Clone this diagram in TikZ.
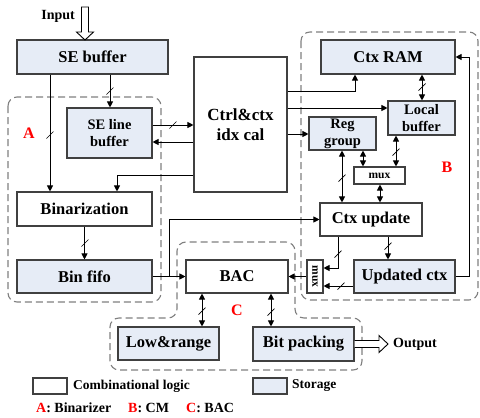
\documentclass[tikz,border=0pt]{standalone}
\usepackage{fontspec}
\setmainfont{Liberation Serif}
\usetikzlibrary{arrows.meta}
\definecolor{store}{HTML}{E6ECF6}
\definecolor{edge}{HTML}{404040}
\definecolor{zonegray}{HTML}{808080}
% short "/" mark across a bus line
\newcommand\busmark[1]{\draw[line width=0.7pt] #1 ++(-3.5,3.5) -- ++(7,-7);}
\begin{document}
\begin{tikzpicture}[x=1pt,y=-1pt,
  box/.style={draw=edge, line width=1.1pt, inner sep=0pt, align=center,
              font=\bfseries\fontsize{16.5}{20}\selectfont},
  comb/.style={box, fill=white},
  stor/.style={box, fill=store},
  small/.style={font=\bfseries\fontsize{14.5}{17}\selectfont},
  tip/.tip={Triangle[length=6pt,width=6pt]},
  arr/.style={line width=0.9pt, -tip},
  barr/.style={line width=0.9pt, tip-tip},
  ln/.style={line width=0.9pt},
  zone/.style={draw=zonegray, line width=1.1pt, dash pattern=on 7pt off 4pt, rounded corners=9pt},
  tag/.style={text=red, font=\bfseries\fontsize{16}{18}\selectfont},
  legend/.style={font=\bfseries\fontsize{13.5}{16}\selectfont, inner sep=0pt},
  keytext/.style={font=\bfseries\fontsize{14}{16}\selectfont, inner sep=0pt, anchor=west},
  hollow/.style={draw=black, line width=0.9pt, fill=white},
]
\useasboundingbox[fill=white] (0,0) rectangle (480,418);

% grouping regions
\draw[zone] (8,97) rectangle (161,302);
\draw[zone] (301,32) rectangle (478,300);
\draw[zone] (236,242) -- (295,242) -- (295,318) -- (362,318) -- (362,370)
  -- (110,370) -- (110,318) -- (177,318) -- (177,242) -- (236,242);

% blocks
\node[stor, minimum width=151pt, minimum height=34pt] (seb)  at (92.5,57)   {SE buffer};
\node[stor, small, minimum width=85pt, minimum height=50pt] (selb) at (109.5,133) {SE line\\buffer};
\node[comb, font=\bfseries\fontsize{17}{20}\selectfont, minimum width=93pt, minimum height=135pt] (ctrl) at (240.5,124.5) {Ctrl\&ctx\\idx cal};
\node[comb, minimum width=135pt, minimum height=34pt] (bin)  at (84.5,209)   {Binarization};
\node[stor, minimum width=135pt, minimum height=33pt] (fifo) at (84.5,276.5) {Bin fifo};
\node[stor, minimum width=134pt, minimum height=34pt] (ram)  at (388,57)     {Ctx RAM};
\node[stor, small, minimum width=67pt, minimum height=34pt] (lbuf) at (421.5,118) {Local\\buffer};
\node[stor, small, minimum width=67pt, minimum height=33pt] (reg)  at (342.5,133.5) {Reg\\group};
\node[comb, font=\bfseries\fontsize{11.5}{13}\selectfont, minimum width=51pt, minimum height=17pt] (muxh) at (379.5,175.5) {mux};
\node[comb, minimum width=102pt, minimum height=33pt] (upd)  at (371,219.5)  {Ctx update};
\node[stor, minimum width=101pt, minimum height=33pt] (uctx) at (404.5,276.5) {Updated ctx};
\node[comb, minimum width=16pt, minimum height=33pt,
      label={[rotate=-90, inner sep=0pt, font=\bfseries\fontsize{11.5}{13}\selectfont]center:mux}] (muxv) at (315,276.5) {};
\node[comb, minimum width=102pt, minimum height=33pt] (bac)  at (237,276.5)  {BAC};
\node[stor, minimum width=101pt, minimum height=33pt] (lr)   at (168.5,343.5) {Low\&range};
\node[stor, minimum width=101pt, minimum height=34pt] (bp)   at (303.5,344)  {Bit packing};

% external input and output
\draw[hollow] (81.5,7) -- (88.5,7) -- (88.5,32) -- (93.5,32) -- (85,40)
  -- (76.5,32) -- (81.5,32) -- cycle;
\node[legend, font=\bfseries\fontsize{14}{16}\selectfont, anchor=east] (inp) at (75,16) {Input};
\draw[hollow] (bp.east |- 0,340.5) -- (379,340.5) -- (379,335.5) -- (388,344)
  -- (379,352.5) -- (379,347.5) -- (bp.east |- 0,347.5);
\node[legend, font=\bfseries\fontsize{14}{16}\selectfont, anchor=west] (outp) at (393,344) {Output};

% binarizer connections
\draw[arr] (seb.south -| 110,0) -- (selb.north -| 110,0);
\busmark{(110,91)}
\draw[arr] (seb.south -| 50,0) -- (bin.north -| 50,0);
\busmark{(50,135)}
\draw[arr] (selb.east |- 0,125) -- (ctrl.west |- 0,125);
\busmark{(173,125)}
\draw[arr] (ctrl.west |- 0,142) -- (selb.east |- 0,142);
\draw[arr] (ctrl.west |- 0,175) -| (bin.north -| 117,0);
\draw[arr] (bin.south) -- (fifo.north);
\busmark{(85,243)}
\draw[arr] (fifo.east) -- (bac.west);
\draw[arr] (fifo.east -| 169,0) |- (upd.west);

% context modelling connections
\draw[arr] (ctrl.east |- 0,91) -| (ram.south -| 355,0);
\draw[arr] (ctrl.east |- 0,108) -- (lbuf.west |- 0,108);
\draw[arr] (ctrl.east |- 0,134) -- (reg.west |- 0,134);
\draw[barr] (ram.south -| 422,0) -- (lbuf.north -| 422,0);
\busmark{(422,87)}
\draw[barr] (reg.south -| 342,0) -- (upd.north -| 342,0);
\busmark{(342,178)}
\draw[barr] (reg.south -| 363,0) -- (muxh.north -| 363,0);
\draw[barr] (lbuf.south -| 396,0) -- (muxh.north -| 396,0);
\busmark{(396,152)}
\draw[barr] (muxh.south -| 380,0) -- (upd.north -| 380,0);
\draw[arr] (uctx.east) -- (uctx.east -| 469,0) |- (ram.east);
\draw[arr] (upd.south -| 388,0) -- (uctx.north -| 388,0);
\busmark{(388,246)}
\draw[arr] (upd.south -| 338,0) |- (muxv.east |- 0,268);
\busmark{(338,254)}
\draw[arr] (uctx.west |- 0,286) -- (muxv.east |- 0,286);
\busmark{(341,286)}
\draw[arr] (muxv.west) -- (bac.east);

% arithmetic coder connections
\draw[barr] (bac.south -| 202,0) -- (lr.north -| 202,0);
\busmark{(202,311)}
\draw[barr] (bac.south -| 271,0) -- (bp.north -| 271,0);
\busmark{(271,312)}

% region tags
\node[tag] (ta) at (29,133) {A};
\node[tag] (tb) at (447,167) {B};
\node[tag] (tc) at (237,310) {C};

% legend
\node[comb, minimum width=34pt, minimum height=16pt] (lg1) at (50,386) {};
\node[legend, anchor=west] (lg1t) at (73,386) {Combinational logic};
\node[stor, minimum width=34pt, minimum height=16pt] (lg2) at (270,386) {};
\node[legend, anchor=west] (lg2t) at (292,386) {Storage};
\node[keytext] (keya) at (36,408)  {\textcolor{red}{A}: Binarizer};
\node[keytext] (keyb) at (128,408) {\textcolor{red}{B}: CM};
\node[keytext] (keyc) at (186,408) {\textcolor{red}{C}: BAC};
\end{tikzpicture}
\end{document}
